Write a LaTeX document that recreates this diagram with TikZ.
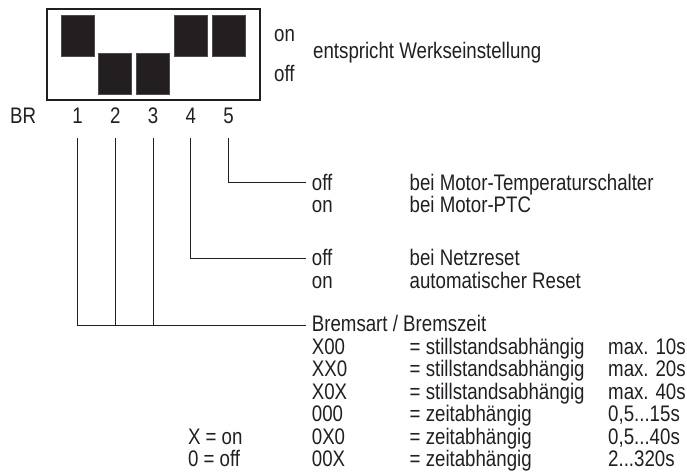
\documentclass[tikz,border=0pt]{standalone}
\usepackage{fontspec}
\setmainfont{Liberation Sans}[FakeStretch=0.83]
\definecolor{ink}{HTML}{231F20}
\tikzset{
  txt/.style={anchor=base west, inner sep=0pt, text=ink, font=\fontsize{22.5}{22.5}\selectfont},
  dig/.style={anchor=base, inner sep=0pt, text=ink, font=\fontsize{22.5}{22.5}\selectfont},
  conn/.style={draw=ink, line width=1pt},
  framebox/.style={draw=ink, line width=2pt, rectangle, inner sep=0pt, minimum width=212.7pt, minimum height=91pt},
  block/.style={fill=ink, draw=ink!80, line width=0.6pt, rectangle, inner sep=0pt, minimum width=33pt, minimum height=40.5pt}
}
\begin{document}
\begin{tikzpicture}[x=1pt,y=-1pt]
\useasboundingbox (0,0) rectangle (687,472);
% DIP switch
\node[framebox] (frame) at (153.65,54.5) {};
\node[block] (k1) at (77.5,35.9) {};
\node[block] (k2) at (115.25,73.6) {};
\node[block] (k3) at (153,73.6) {};
\node[block] (k4) at (190.75,35.9) {};
\node[block] (k5) at (228.5,35.9) {};
\node[txt] (lon) at (274,41.7) {on};
\node[txt] (loff) at (274,81.7) {off};
\node[txt] (werk) at (313,58) {entspricht Werkseinstellung};
% numbers
\node[txt] (br) at (10,123.5) {BR};
\node[dig] (n1) at (77.5,123.5) {1};
\node[dig] (n2) at (115.25,123.5) {2};
\node[dig] (n3) at (153,123.5) {3};
\node[dig] (n4) at (190.75,123.5) {4};
\node[dig] (n5) at (228.5,123.5) {5};
% connector start/end points
\coordinate (s1) at (77.5,138);
\coordinate (s2) at (115.25,138);
\coordinate (s3) at (153,138);
\coordinate (s4) at (190.75,138);
\coordinate (s5) at (228.5,138);
\coordinate (e5) at (306,182.5);
\coordinate (e4) at (306,258);
\coordinate (e1) at (306,325);
\draw[conn] (s5) |- (e5);
\draw[conn] (s4) |- (e4);
\draw[conn] (s1) |- (e1);
\draw[conn] (s2) -- (s2 |- e1);
\draw[conn] (s3) -- (s3 |- e1);
% switch 5
\node[txt] (o5off) at (311.7,190) {off};
\node[txt] (t5off) at (409.5,190) {bei Motor-Temperaturschalter};
\node[txt] (o5on) at (311.7,212.5) {on};
\node[txt] (t5on) at (409.5,212.5) {bei Motor-PTC};
% switch 4
\node[txt] (o4off) at (311.7,265.5) {off};
\node[txt] (t4off) at (409.5,265.5) {bei Netzreset};
\node[txt] (o4on) at (311.7,288) {on};
\node[txt] (t4on) at (409.5,288) {automatischer Reset};
% switches 1-3
\node[txt] (brems) at (311.7,331.5) {Bremsart / Bremszeit};
\node[txt] (c1) at (311.7,354) {X00};
\node[txt] (m1) at (409.5,354) {= stillstandsabhängig};
\node[txt] (v1) at (608,354) {max. 10s};
\node[txt] (c2) at (311.7,376.5) {XX0};
\node[txt] (m2) at (409.5,376.5) {= stillstandsabhängig};
\node[txt] (v2) at (608,376.5) {max. 20s};
\node[txt] (c3) at (311.7,399) {X0X};
\node[txt] (m3) at (409.5,399) {= stillstandsabhängig};
\node[txt] (v3) at (608,399) {max. 40s};
\node[txt] (c4) at (311.7,421.5) {000};
\node[txt] (m4) at (409.5,421.5) {= zeitabhängig};
\node[txt] (v4) at (608,421.5) {0,5...15s};
\node[txt] (c5) at (311.7,444) {0X0};
\node[txt] (m5) at (409.5,444) {= zeitabhängig};
\node[txt] (v5) at (608,444) {0,5...40s};
\node[txt] (c6) at (311.7,466.5) {00X};
\node[txt] (m6) at (409.5,466.5) {= zeitabhängig};
\node[txt] (v6) at (608,466.5) {2...320s};
\node[txt] (xon) at (187.8,444) {X = on};
\node[txt] (xoff) at (187.8,466.5) {0 = off};
\end{tikzpicture}
\end{document}
